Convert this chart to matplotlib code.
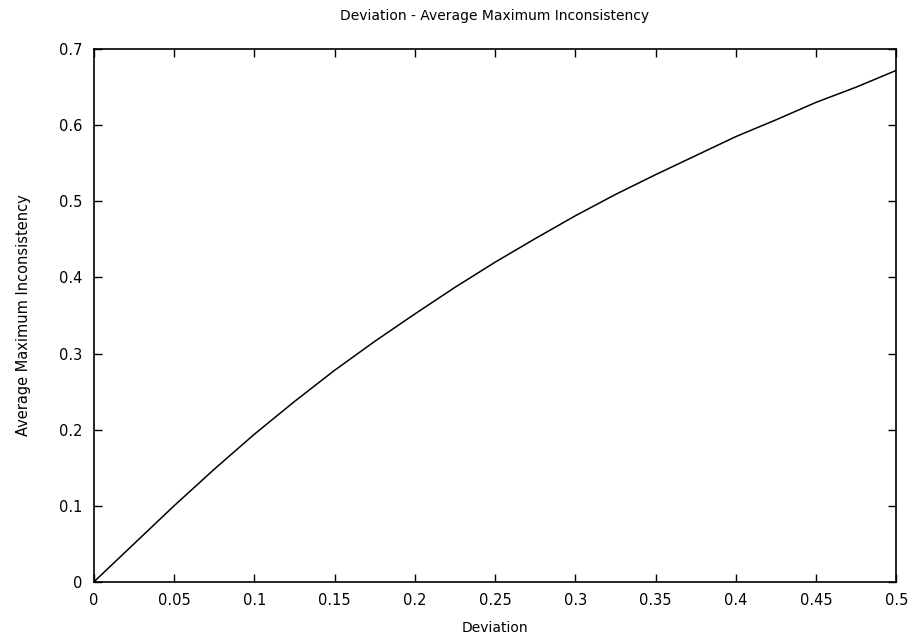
import matplotlib
matplotlib.use('Agg')
import matplotlib.pyplot as plt

# valores
deviation = [0.0, 0.025, 0.05, 0.075, 0.1, 0.125, 0.15, 0.175, 0.2, 0.225, 0.25,
             0.275, 0.3, 0.325, 0.35, 0.375, 0.4, 0.425, 0.45, 0.475, 0.5]
avg_max_inconsistency = [0.0, 0.05, 0.1, 0.148, 0.194, 0.237, 0.278, 0.316, 0.352, 0.387, 0.42,
                         0.451, 0.481, 0.509, 0.535, 0.56, 0.585, 0.607, 0.63, 0.65, 0.672]
xticks = [0, 0.05, 0.1, 0.15, 0.2, 0.25, 0.3, 0.35, 0.4, 0.45, 0.5]
xtick_labels = ['0', '0.05', '0.1', '0.15', '0.2', '0.25', '0.3', '0.35', '0.4', '0.45', '0.5']
yticks = [0, 0.1, 0.2, 0.3, 0.4, 0.5, 0.6, 0.7]
ytick_labels = ['0', '0.1', '0.2', '0.3', '0.4', '0.5', '0.6', '0.7']

plt.rcParams['font.family'] = ['DejaVu Sans']

fig = plt.figure(figsize=(9.1, 6.37), dpi=100)
ax = fig.add_axes([0.103, 0.0863, 0.882, 0.8367])

ax.plot(deviation, avg_max_inconsistency, color='black', linewidth=1.1)

ax.set_xlim(0, 0.5)
ax.set_ylim(0, 0.7)
ax.set_xticks(xticks)
ax.set_xticklabels(xtick_labels)
ax.set_yticks(yticks)
ax.set_yticklabels(ytick_labels)
ax.tick_params(direction='in', length=6, width=1, labelsize=10.5, top=True, right=True, pad=8)
for s in ax.spines.values():
    s.set_linewidth(1.2)

ax.set_xlabel('Deviation', fontsize=10, labelpad=9)
ax.set_ylabel('Average Maximum Inconsistency', fontsize=10.5, labelpad=20)
ax.set_title('Deviation - Average Maximum Inconsistency', fontsize=10, pad=21)

fig.savefig('out.png', dpi=100)
